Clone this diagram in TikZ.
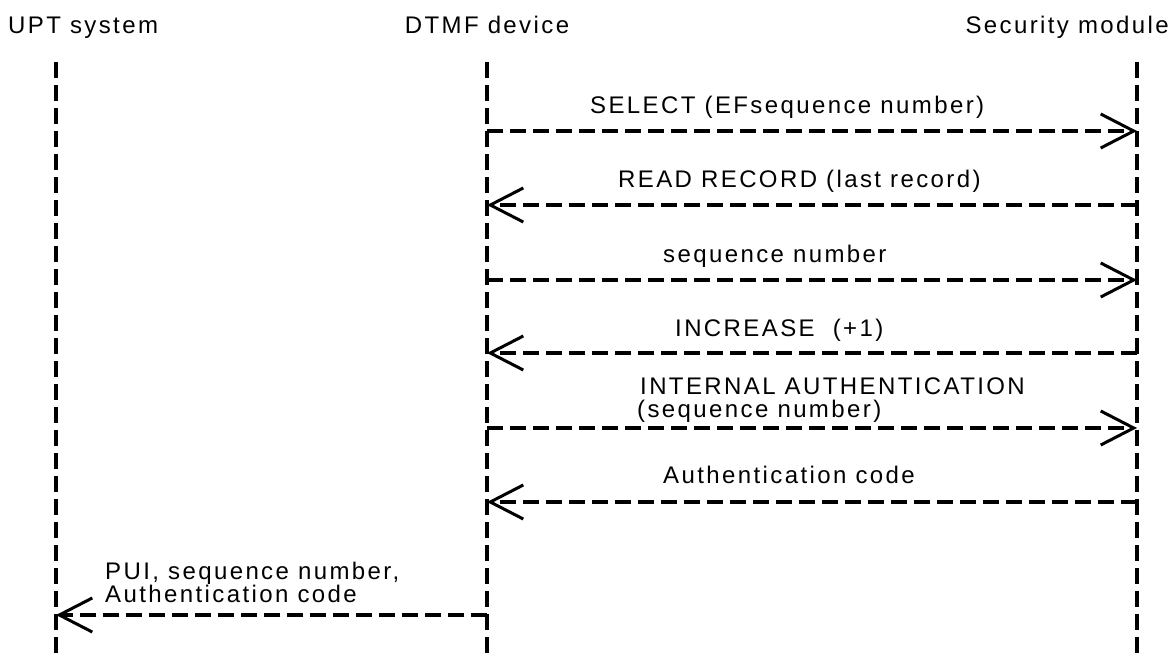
\documentclass[tikz,border=0pt]{standalone}
\usepackage{fontspec}
\setmainfont{Liberation Sans}[LetterSpace=10]
\usetikzlibrary{arrows.meta}

\tikzset{
  lifeline/.style={line width=3.5pt, dash pattern=on 16pt off 7pt},
  msg/.style={line width=3.5pt, dash pattern=on 16pt off 7pt,
    -{Straight Barb[length=33pt, width=34pt, line width=3pt]}},
  lbl/.style={inner sep=0pt, anchor=base west, font=\fontsize{24}{25}\selectfont, align=left},
}

\begin{document}
\begin{tikzpicture}[x=1pt, y=-1pt]
  \useasboundingbox (0,0) rectangle (1171,653);

  % participants
  \node[lbl] (hupt) at (8,33) {UPT system};
  \node[lbl, anchor=base] (hdtmf) at (487,33) {DTMF device};
  \node[lbl, anchor=base east] (hsm) at (1169,33) {Security module};

  % lifeline end points
  \coordinate (upt-top) at (56,62);   \coordinate (upt-bot) at (56,653);
  \coordinate (dtmf-top) at (487,62); \coordinate (dtmf-bot) at (487,653);
  \coordinate (sm-top) at (1137,62);  \coordinate (sm-bot) at (1137,653);

  \draw[lifeline] (upt-top) -- (upt-bot);
  \draw[lifeline] (dtmf-top) -- (dtmf-bot);
  \draw[lifeline] (sm-top) -- (sm-bot);

  % message levels on each lifeline
  \foreach \i/\y in {1/131, 2/205, 3/280, 4/353, 5/428, 6/502, 7/615} {
    \coordinate (upt-\i) at (56,\y);
    \coordinate (dtmf-\i) at (487,\y);
    \coordinate (sm-\i) at (1137,\y);
  }

  % messages
  \draw[msg] (dtmf-1) -- (sm-1);
  \node[lbl] (m1) at (590,113) {SELECT (EFsequence number)};

  \draw[msg] (sm-2) -- (dtmf-2);
  \node[lbl] (m2) at (618,187) {READ RECORD (last record)};

  \draw[msg] (dtmf-3) -- (sm-3);
  \node[lbl] (m3) at (663,262) {sequence number};

  \draw[msg] (sm-4) -- (dtmf-4);
  \node[lbl] (m4) at (675,336) {INCREASE\ \ (+1)};

  \draw[msg] (dtmf-5) -- (sm-5);
  \node[lbl] (m5a) at (640,394) {INTERNAL AUTHENTICATION};
  \node[lbl] (m5b) at (637,417) {(sequence number)};

  \draw[msg] (sm-6) -- (dtmf-6);
  \node[lbl] (m6) at (663,483) {Authentication code};

  \draw[msg] (dtmf-7) -- (upt-7);
  \node[lbl] (m7a) at (105,579) {PUI, sequence number,};
  \node[lbl] (m7b) at (105,602) {Authentication code};
\end{tikzpicture}
\end{document}
